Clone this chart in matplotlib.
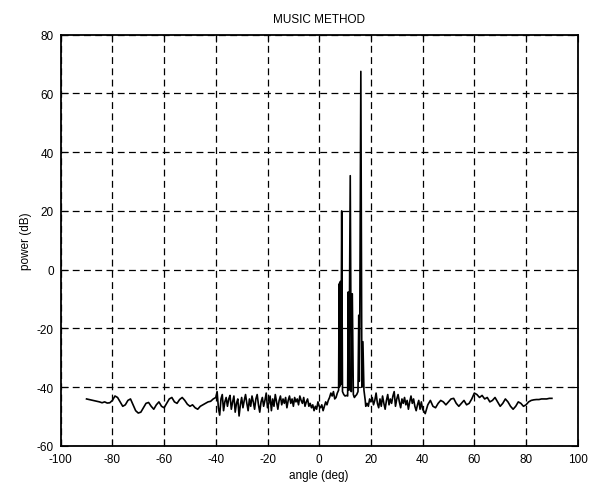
import numpy as np
import matplotlib
matplotlib.use('Agg')
import matplotlib.pyplot as plt

plt.rcParams['font.family'] = ['Liberation Sans', 'DejaVu Sans']
plt.rcParams['axes.unicode_minus'] = False

# spectrum: outer side lobes (1 deg step)
left_angles = np.arange(-90, -39, 1.0)
left_power = [-44.0, -44.2, -44.4, -44.6, -44.8, -45.0, -45.3, -45.0, -45.4, -45.3,
              -44.5, -43.0, -43.5, -45.0, -46.5, -46.0, -44.5, -44.0, -46.0, -48.0,
              -48.8, -48.5, -47.0, -45.5, -45.2, -46.5, -47.5, -46.0, -45.0, -46.5,
              -47.0, -45.5, -44.0, -43.5, -45.0, -45.5, -44.2, -43.5, -44.5, -45.8,
              -46.5, -46.0, -47.0, -47.5, -46.5, -46.0, -45.5, -45.0, -44.8, -44.0,
              -43.5]

# inner noise floor (0.5 deg step), left of the peaks
inner_left_angles = np.arange(-39.5, 6.0, 0.5)
inner_left_power = [-41.5, -47.0, -49.5, -44.0, -42.5, -48.0, -45.0, -43.5, -46.5, -44.0,
                    -42.8, -47.5, -45.0, -43.0, -48.5, -45.5, -44.0, -49.8, -46.0, -43.5,
                    -47.0, -44.5, -42.5, -45.5, -48.0, -44.0, -46.5, -43.0, -45.0, -47.5,
                    -44.0, -42.5, -46.0, -48.5, -45.0, -43.5, -46.5, -44.5, -42.0, -47.0,
                    -45.5, -43.0, -48.0, -44.0, -46.5, -42.5, -45.0, -47.5, -44.5, -43.0,
                    -46.0, -44.0, -45.5, -43.5, -47.0, -44.5, -43.0, -45.5, -44.0, -46.5,
                    -43.5, -45.0, -44.0, -46.0, -43.0, -44.5, -45.5, -43.5, -46.5, -45.0,
                    -44.0, -46.5, -45.5, -47.0, -46.0, -48.0, -46.5, -47.5, -45.0, -46.5,
                    -47.0, -46.0, -48.0, -46.5, -45.0, -46.0, -44.5, -43.5, -42.0, -43.0,
                    -41.5]

# peak region (three sources)
peak_angles = [6.0, 6.5, 7.0, 7.5, 7.7, 7.8, 7.9, 8.0, 8.2, 8.4, 8.7, 9.0, 9.5, 10.0,
               10.5, 11.0, 11.2, 11.5, 12.0, 12.4, 12.8, 13.2, 13.6, 14.0, 14.5, 15.0,
               15.3, 15.5, 15.7, 16.1, 16.5, 16.9, 17.3, 17.8, 18.0]
peak_power = [-44.0, -43.5, -42.0, -41.0, -5.0, -40.0, -4.5, -39.5, -4.0, -39.0, 20.0,
              -41.5, -42.5, -43.0, -42.8, -43.0, -7.6, -41.0, 32.0, -41.5, -8.2, -42.5,
              -43.5, -43.0, -42.5, -41.5, -15.5, -38.0, -16.0, 67.5, -40.0, -24.5, -41.0,
              -44.5, -46.5]

# inner noise floor right of the peaks
inner_right_angles = np.arange(18.5, 40.0, 0.5)
inner_right_power = [-45.5, -46.5, -44.0, -45.0, -43.5, -46.0, -44.5, -42.0, -45.5, -47.0,
                     -44.0, -46.5, -43.0, -45.5, -47.5, -44.5, -42.5, -46.0, -44.0, -45.5,
                     -43.0, -41.5, -46.5, -44.0, -42.5, -45.0, -47.0, -44.0, -45.5, -43.5,
                     -46.0, -44.5, -47.5, -45.0, -43.0, -45.5, -44.0, -46.5, -48.0, -46.0,
                     -44.5, -47.5, -45.0]

right_angles = np.arange(40, 91, 1.0)
right_power = [-47.5, -49.0, -46.0, -44.5, -46.5, -47.0, -45.5, -44.5, -45.0, -46.0,
               -45.0, -44.0, -43.8, -45.5, -46.5, -45.5, -44.5, -46.0, -45.5, -44.0,
               -42.0, -42.5, -43.5, -42.8, -44.0, -43.5, -45.0, -44.5, -43.5, -45.0,
               -46.5, -45.5, -44.0, -45.0, -46.5, -47.5, -46.5, -45.0, -45.5, -46.5,
               -46.0, -45.0, -44.5, -44.3, -44.2, -44.2, -44.0, -44.0, -44.0, -43.8,
               -43.8]

angles = np.concatenate([left_angles, inner_left_angles, peak_angles,
                         inner_right_angles, right_angles])
power = np.concatenate([left_power, inner_left_power, peak_power,
                        inner_right_power, right_power])

fig = plt.figure(figsize=(5.95, 4.89), dpi=100)
ax = fig.add_axes([0.102, 0.086, 0.869, 0.841])
ax.plot(angles, power, color='black', linewidth=1.2)

ax.set_xlim(-100, 100)
ax.set_ylim(-60, 80)
ax.set_xticks(np.arange(-100, 101, 20))
ax.set_yticks(np.arange(-60, 81, 20))
ax.grid(True, color='black', linestyle=(0, (5.5, 3.5)), linewidth=0.9)
ax.tick_params(direction='in', top=True, right=True, labelsize=8.5, length=5, pad=5)
for s in ax.spines.values():
    s.set_linewidth(1.3)

ax.set_title('MUSIC METHOD', fontsize=8.5, pad=9)
ax.set_xlabel('angle (deg)', fontsize=8.5, labelpad=3)
ax.set_ylabel('power (dB)', fontsize=8.5, labelpad=3)

fig.savefig('out.png', dpi=100)
